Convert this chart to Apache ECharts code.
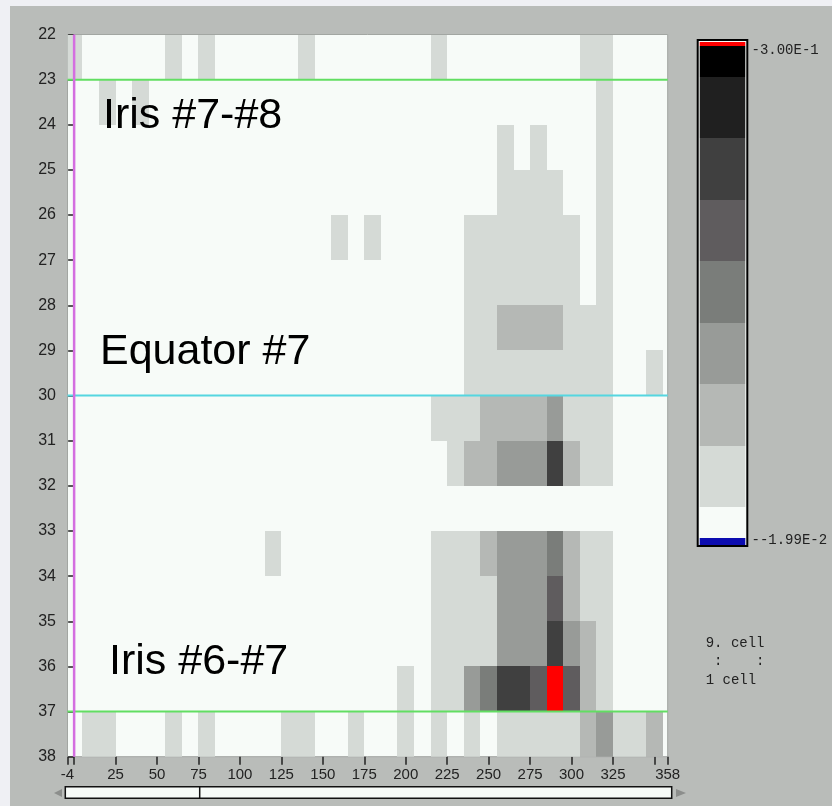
<!DOCTYPE html>
<html>
<head>
<meta charset="utf-8">
<script src="https://cdn.jsdelivr.net/npm/echarts@6/dist/echarts.min.js"></script>
<style>
  html, body { margin: 0; padding: 0; background: #eff0f4; }
  #chart { position: absolute; left: 10px; top: 6px; width: 822px; height: 800px; }
</style>
</head>
<body>
<div id="chart"></div>
<script>
// column centres (x), one cell is 10 wide
const colCenters = [0, 10, 20, 30, 40, 50, 60, 70, 80, 90, 100, 110, 120, 130, 140, 150, 160, 170,
  180, 190, 200, 210, 220, 230, 240, 250, 260, 270, 280, 290, 300, 310, 320, 330, 340, 350]
// row starts (y), one cell is 1 high
const rowStarts = [22, 23, 24, 25, 26, 27, 28, 29, 30, 31, 32, 33, 34, 35, 36, 37]
// level per cell, one char per column: 0 = blank, 1..8 = grey steps, 9 = over range (red)
const levelRows = [
  '100000101000001000000010000000011000', // 22
  '001010000000000000000000000000001000', // 23
  '000000000000000000000000001010001000', // 24
  '000000000000000000000000001111001000', // 25
  '000000000000000010100000111111101000', // 26
  '000000000000000000000000111111101000', // 27
  '000000000000000000000000112222111000', // 28
  '000000000000000000000000111111111001', // 29
  '000000000000000000000011122223111000', // 30
  '000000000000000000000001223336211000', // 31
  '000000000000000000000000000000000000', // 32
  '000000000000100000000011123334211000', // 33
  '000000000000000000000011113335211000', // 34
  '000000000000000000000011113336321000', // 35
  '000000000000000000001011346659521000', // 36
  '011000101000011001001010101111123112', // 37
]
const guideLevels = [23, 30, 37]
const xLabelValues = [-4, 25, 50, 75, 100, 125, 150, 175, 200, 225, 250, 275, 300, 325, 358]
const xTickValues = [-4, 0, 25, 50, 75, 100, 125, 150, 175, 200, 225, 250, 275, 300, 325, 350, 358]
const scaleTop = '-3.00E-1'
const scaleBottom = '--1.99E-2'

const LEVEL_COLORS = ['#f7fbf8', '#d5dad6', '#b5b8b5', '#989b98', '#7a7d7a',
  '#5f5c5e', '#404040', '#202020', '#000000', '#ff0000']
const UNDER_COLOR = '#0c0cb0'
const PLOT_BG = '#f7fbf8'

const cells = []
levelRows.forEach((row, r) => {
  row.split('').forEach((ch, c) => {
    const lvl = Number(ch)
    if (lvl > 0) cells.push([colCenters[c], rowStarts[r], lvl])
  })
})

// colour bar segments: [from, to, colour index]; 8 steps, half steps at both ends
const barSegments = []
for (let l = 0; l <= 8; l++) barSegments.push([Math.max(0, l - 0.5), Math.min(8, l + 0.5), l])
barSegments.push([8, 8.07, 9])
barSegments.push([-0.12, 0, -1])

function renderCell(params, api) {
  const x = api.value(0)
  const y = api.value(1)
  const cs = params.coordSys
  // snap to whole pixels so neighbouring cells join without seams
  const p0 = api.coord([x - 5, y]).map(Math.round)
  const p1 = api.coord([x + 5, y + 1]).map(Math.round)
  const shape = echarts.graphic.clipRectByRect(
    { x: p0[0], y: p0[1], width: p1[0] - p0[0], height: p1[1] - p0[1] },
    { x: cs.x, y: cs.y, width: cs.width, height: cs.height }
  )
  if (!shape) return
  return { type: 'rect', shape, style: { fill: LEVEL_COLORS[api.value(2)] } }
}

function renderBar(params, api) {
  const cs = params.coordSys
  const top = Math.round(api.coord([0, api.value(1)])[1])
  const bottom = Math.round(api.coord([0, api.value(0)])[1])
  const idx = api.value(2)
  return {
    type: 'rect',
    shape: { x: cs.x + 2, y: top, width: cs.width - 4, height: bottom - top },
    style: { fill: idx < 0 ? UNDER_COLOR : LEVEL_COLORS[idx] },
  }
}

const guideSeries = guideLevels.map((lv, i) => ({
  type: 'line',
  xAxisIndex: 0,
  yAxisIndex: 0,
  data: [[-4, lv], [358, lv]],
  showSymbol: false,
  silent: true,
  lineStyle: { color: i === 1 ? '#55d6e0' : '#62de62', width: 2 },
  z: 5,
}))

const monoFont = '14px "Liberation Mono", "DejaVu Sans Mono", monospace'
const bigFont = '43px "Liberation Sans", Arial, sans-serif'

function label(text, x, y, font) {
  return { type: 'text', x, y, z: 100, style: { text, font, fill: font === bigFont ? '#000' : '#222', verticalAlign: 'middle' } }
}

const chart = echarts.init(document.getElementById('chart'), null, { renderer: 'canvas' })
chart.setOption({
  backgroundColor: '#b9bcb9',
  animation: false,
  grid: [
    { left: 57.5, top: 28.5, width: 600.2, height: 722.2, show: true,
      backgroundColor: PLOT_BG, borderColor: '#a2a6a2', borderWidth: 1 },
    { left: 687.7, top: 34, width: 49.6, height: 506, show: true,
      backgroundColor: PLOT_BG, borderColor: '#000', borderWidth: 2 },
  ],
  xAxis: [
    {
      type: 'value', gridIndex: 0, min: -4, max: 358,
      axisLine: { show: false },
      splitLine: { show: false },
      axisTick: { customValues: xTickValues, length: 8, lineStyle: { color: '#222', width: 1.5 } },
      axisLabel: { customValues: xLabelValues, margin: 11, fontSize: 15,
        fontFamily: '"Liberation Sans", Arial, sans-serif', color: '#222' },
    },
    { type: 'value', gridIndex: 1, min: 0, max: 1, show: false },
  ],
  yAxis: [
    {
      type: 'value', gridIndex: 0, min: 22, max: 38, interval: 1, inverse: true,
      offset: 2.5,
      axisLine: { show: false },
      splitLine: { show: false },
      axisTick: { length: 6, lineStyle: { color: '#222', width: 1.5 } },
      axisLabel: { margin: 9, fontSize: 16,
        fontFamily: '"Liberation Sans", Arial, sans-serif', color: '#222' },
    },
    { type: 'value', gridIndex: 1, min: -0.135, max: 8.098, show: false },
  ],
  series: [
    {
      type: 'custom',
      xAxisIndex: 0,
      yAxisIndex: 0,
      renderItem: renderCell,
      data: cells,
      silent: true,
      z: 2,
    },
    ...guideSeries,
    {
      type: 'line',
      xAxisIndex: 0,
      yAxisIndex: 0,
      data: [[0, 22], [0, 38]],
      showSymbol: false,
      silent: true,
      lineStyle: { color: '#d46ee0', width: 2.5 },
      z: 6,
    },
    {
      type: 'custom',
      xAxisIndex: 1,
      yAxisIndex: 1,
      renderItem: renderBar,
      data: barSegments,
      silent: true,
    },
  ],
  graphic: {
    elements: [
      label('Iris #7-#8', 93, 110, bigFont),
      label('Equator #7', 90, 346, bigFont),
      label('Iris #6-#7', 99, 656, bigFont),
      label(scaleTop, 741.5, 44, monoFont),
      label(scaleBottom, 741.5, 534, monoFont),
      label('9. cell', 695.7, 637, monoFont),
      label(' :    :', 695.7, 655.5, monoFont),
      label('1 cell', 695.7, 674, monoFont),
      // scroll bar under the x axis
      { type: 'rect', z: 100, shape: { x: 55.3, y: 780.7, width: 606.4, height: 11.6 },
        style: { fill: PLOT_BG, stroke: '#111', lineWidth: 1.5 } },
      { type: 'line', z: 101, shape: { x1: 189.7, y1: 780.7, x2: 189.7, y2: 792.3 },
        style: { stroke: '#111', lineWidth: 1.5 } },
      { type: 'polygon', z: 100, shape: { points: [[44, 787], [52, 783], [52, 791]] }, style: { fill: '#8c8e8c' } },
      { type: 'polygon', z: 100, shape: { points: [[666, 783], [676, 787], [666, 791]] }, style: { fill: '#8c8e8c' } },
    ],
  },
})
</script>
</body>
</html>
